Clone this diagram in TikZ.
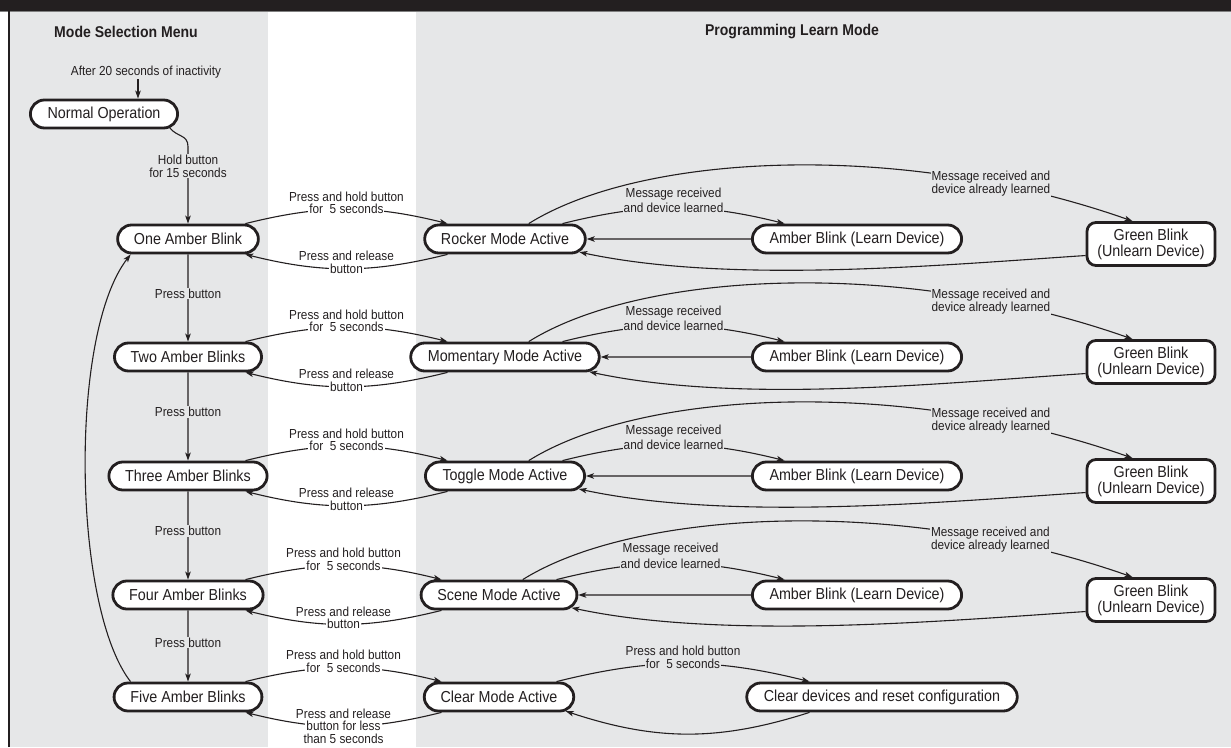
\documentclass[tikz,border=0pt]{standalone}
\usepackage{fontspec}
\setmainfont{Liberation Sans}[FakeStretch=0.9]
\usetikzlibrary{arrows.meta,shapes.misc}
\definecolor{panel}{HTML}{E6E7E8}
\definecolor{ink}{HTML}{231F20}

\begin{document}
\begin{tikzpicture}[x=1pt, y=1pt,
    state/.style={rounded rectangle, draw=ink, line width=2.8pt, fill=white,
      text=ink, minimum height=28pt, inner xsep=15pt,
      font=\fontsize{15.9}{16}\selectfont},
    greenbox/.style={rectangle, rounded corners=9pt, draw=ink, line width=2.8pt,
      fill=white, text=ink, minimum width=128pt, minimum height=43pt,
      align=center, font=\fontsize{15.9}{16}\selectfont},
    head/.style={text=ink, font=\fontsize{15.6}{18}\selectfont\bfseries},
    lbl/.style={text=ink, align=center, inner sep=1pt,
      font=\fontsize{13.1}{13}\selectfont},
    arr/.style={draw=ink, line width=1.1pt,
      -{Stealth[length=8pt,width=5.5pt,inset=2pt]}}]

  % panels
  \useasboundingbox (0,0) rectangle (1231,747);
  \fill[white] (0,0) rectangle (1231,747);
  \fill[panel] (10,0) rectangle (268,736);
  \fill[panel] (416,0) rectangle (1231,736);
  \fill[ink] (0,736) rectangle (1231,747);
  \draw[gray, line width=1pt] (0,735.5) -- (1231,735.5);
  \draw[ink, line width=2.5pt] (9,0) -- (9,736);

  \node[head] (menu) at (126,715) {Mode Selection Menu};
  \node[head] (progmode) at (792,715) {Programming Learn Mode};

  % mode selection menu
  \node[lbl] (idle) at (146,675) {After 20 seconds of inactivity};
  \node[state] (normal) at (104,633) {Normal Operation};
  \node[state] (one) at (188,508) {One Amber Blink};
  \node[state] (two) at (188,390) {Two Amber Blinks};
  \node[state] (three) at (188,271) {Three Amber Blinks};
  \node[state] (four) at (188,152) {Four Amber Blinks};
  \node[state] (five) at (188,50) {Five Amber Blinks};

  % programming learn mode
  \node[state] (rocker) at (505,508) {Rocker Mode Active};
  \node[state] (momentary) at (505,390) {Momentary Mode Active};
  \node[state] (toggle) at (505,271) {Toggle Mode Active};
  \node[state] (scene) at (499,152) {Scene Mode Active};
  \node[state] (clear) at (499,50) {Clear Mode Active};

  \node[state] (amberA) at (857,508) {Amber Blink (Learn Device)};
  \node[state] (amberB) at (857,390) {Amber Blink (Learn Device)};
  \node[state] (amberC) at (857,271) {Amber Blink (Learn Device)};
  \node[state] (amberD) at (857,152) {Amber Blink (Learn Device)};
  \node[state] (reset) at (882,50) {Clear devices and reset configuration};

  \node[greenbox] (greenA) at (1151,503) {Green Blink\\(Unlearn Device)};
  \node[greenbox] (greenB) at (1151,385) {Green Blink\\(Unlearn Device)};
  \node[greenbox] (greenC) at (1151,266) {Green Blink\\(Unlearn Device)};
  \node[greenbox] (greenD) at (1151,147) {Green Blink\\(Unlearn Device)};

  % menu steps
  \draw[arr] ([xshift=-8pt]idle.south) -- ([xshift=-8pt]idle.south |- normal.north);
  \coordinate (hold) at ([yshift=77pt]one.north);
  \draw[arr] (normal.-12) .. controls +(7,-9) and +(0,12) .. (hold)
    -- node[lbl, fill=panel, pos=0.25] {Hold button\\for 15 seconds} (one.north);
  \draw[arr] (one) -- node[lbl, fill=panel, pos=0.45] {Press button} (two);
  \draw[arr] (two) -- node[lbl, fill=panel, pos=0.45] {Press button} (three);
  \draw[arr] (three) -- node[lbl, fill=panel, pos=0.45] {Press button} (four);
  \draw[arr] (four) -- node[lbl, fill=panel, pos=0.45] {Press button} (five);
  \draw[arr] (five.165) .. controls +(-58,75) and +(-62,-80) .. (one.195);

  % rocker
  \draw[arr] (one.15) to[bend left=14] node[lbl, fill=white,
    label={[lbl]above:Press and hold button}] {for\ \ 5 seconds} (rocker.165);
  \draw[arr] (rocker.195) to[bend left=14] node[lbl, fill=white,
    label={[lbl]above:Press and release}] {button} (one.-15);
  \draw[arr] (rocker.15) to[bend left=14] node[lbl, fill=panel,
    label={[lbl]above:Message received}] {and device learned} (amberA.168);
  \draw[arr] (amberA) -- (rocker);
  \draw[arr] (rocker.33) .. controls +(112,70) and +(-233,82) .. node[lbl, fill=panel, pos=0.8]
    {Message received and\\device already learned} (greenA.129);
  \draw[arr] (greenA.190) .. controls +(-150,-10) and +(150,-32) .. (rocker.-10);

  % momentary
  \draw[arr] (two.15) to[bend left=14] node[lbl, fill=white,
    label={[lbl]above:Press and hold button}] {for\ \ 5 seconds} (momentary.165);
  \draw[arr] (momentary.195) to[bend left=14] node[lbl, fill=white,
    label={[lbl]above:Press and release}] {button} (two.-15);
  \draw[arr] (momentary.15) to[bend left=14] node[lbl, fill=panel,
    label={[lbl]above:Message received}] {and device learned} (amberB.168);
  \draw[arr] (amberB) -- (momentary);
  \draw[arr] (momentary.33) .. controls +(112,70) and +(-233,82) .. node[lbl, fill=panel, pos=0.8]
    {Message received and\\device already learned} (greenB.129);
  \draw[arr] (greenB.190) .. controls +(-150,-10) and +(150,-32) .. (momentary.-10);

  % toggle
  \draw[arr] (three.15) to[bend left=14] node[lbl, fill=white,
    label={[lbl]above:Press and hold button}] {for\ \ 5 seconds} (toggle.165);
  \draw[arr] (toggle.195) to[bend left=14] node[lbl, fill=white,
    label={[lbl]above:Press and release}] {button} (three.-15);
  \draw[arr] (toggle.15) to[bend left=14] node[lbl, fill=panel,
    label={[lbl]above:Message received}] {and device learned} (amberC.168);
  \draw[arr] (amberC) -- (toggle);
  \draw[arr] (toggle.33) .. controls +(112,70) and +(-233,82) .. node[lbl, fill=panel, pos=0.8]
    {Message received and\\device already learned} (greenC.129);
  \draw[arr] (greenC.190) .. controls +(-150,-10) and +(150,-32) .. (toggle.-10);

  % scene
  \draw[arr] (four.15) to[bend left=14] node[lbl, fill=white,
    label={[lbl]above:Press and hold button}] {for\ \ 5 seconds} (scene.165);
  \draw[arr] (scene.195) to[bend left=14] node[lbl, fill=white,
    label={[lbl]above:Press and release}] {button} (four.-15);
  \draw[arr] (scene.15) to[bend left=14] node[lbl, fill=panel,
    label={[lbl]above:Message received}] {and device learned} (amberD.168);
  \draw[arr] (amberD) -- (scene);
  \draw[arr] (scene.33) .. controls +(112,70) and +(-233,82) .. node[lbl, fill=panel, pos=0.8]
    {Message received and\\device already learned} (greenD.129);
  \draw[arr] (greenD.190) .. controls +(-150,-10) and +(150,-32) .. (scene.-10);

  % clear
  \draw[arr] (five.15) to[bend left=14] node[lbl, fill=white,
    label={[lbl]above:Press and hold button}] {for\ \ 5 seconds} (clear.165);
  \draw[arr] (clear.195) to[bend left=14] node[lbl, fill=white,
    label={[lbl]above:Press and release}, label={[lbl]below:than 5 seconds}]
    {button for less} (five.-15);
  \draw[arr] (clear.15) to[bend left=14] node[lbl, fill=panel,
    label={[lbl]above:Press and hold button}] {for\ \ 5 seconds} (reset.168);
  \draw[arr] (reset.192) to[bend left=18] (clear.-12);
\end{tikzpicture}
\end{document}
